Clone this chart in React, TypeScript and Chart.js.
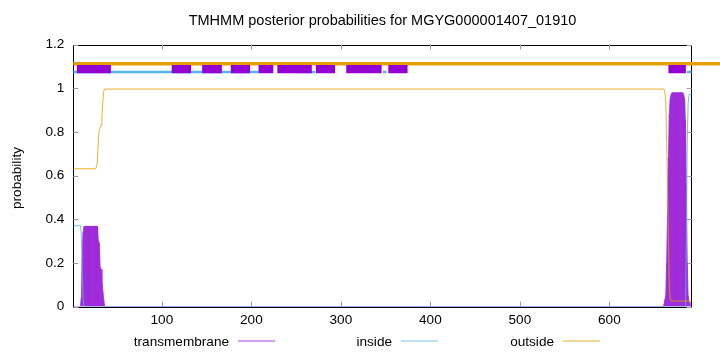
import React, { useEffect, useRef } from "react";
import { Chart, registerables } from "chart.js";

Chart.register(...registerables);

const TITLE = "TMHMM posterior probabilities for MGYG000001407_01910";
const Y_LABEL = "probability";
const LEGEND_LABELS = ["transmembrane", "inside", "outside"];
const X_TICKS = [100, 200, 300, 400, 500, 600];
const Y_TICKS = [0, 0.2, 0.4, 0.6, 0.8, 1, 1.2];
const Y_TICK_LABELS = ["0", "0.2", "0.4", "0.6", "0.8", "1", "1.2"];
const SEQ_START = 1;
const SEQ_END = 692;

// transmembrane posterior, per residue, in the two peaks (zero elsewhere)
const TM_LEFT_POS = [9, 10, 11, 12, 13, 14, 15, 16, 17, 18, 19, 20, 21, 22, 23, 24, 25, 26, 27, 28, 29, 30, 31, 32, 33, 34, 35, 36];
const TM_LEFT = [0, 0.04, 0.22, 0.34, 0.367, 0.367, 0.367, 0.367, 0.367, 0.367, 0.367, 0.367, 0.367, 0.367, 0.367, 0.367, 0.367, 0.367, 0.367, 0.367, 0.3, 0.29, 0.18, 0.17, 0.12, 0.07, 0.03, 0];
const TM_RIGHT_POS = [660, 661, 662, 663, 664, 665, 666, 667, 668, 669, 670, 671, 672, 673, 674, 675, 676, 677, 678, 679, 680, 681, 682, 683, 684, 685, 686, 687, 688, 689, 690, 691, 692];
const TM_RIGHT = [0, 0.01, 0.03, 0.05, 0.2, 0.42, 0.68, 0.88, 0.95, 0.97, 0.979, 0.979, 0.979, 0.979, 0.979, 0.979, 0.979, 0.979, 0.979, 0.979, 0.979, 0.979, 0.979, 0.97, 0.95, 0.85, 0.55, 0.2, 0.05, 0.02, 0.01, 0, 0];

// inside / outside posterior breakpoints
const INSIDE_POS = [1, 9, 10, 11, 12, 13, 685, 686, 687, 688, 689, 692];
const INSIDE = [0.37, 0.37, 0.33, 0.15, 0.03, 0, 0, 0.3, 0.75, 0.93, 0.97, 0.975];
const OUTSIDE_POS = [1, 26, 27, 28, 29, 30, 31, 32, 33, 34, 35, 36, 661, 662, 663, 664, 665, 666, 667, 668, 669, 692];
const OUTSIDE = [0.631, 0.631, 0.64, 0.67, 0.76, 0.81, 0.82, 0.83, 0.87, 0.94, 0.985, 0.996, 0.996, 0.98, 0.94, 0.75, 0.55, 0.3, 0.1, 0.03, 0.025, 0.025];

// topology bar at the top
const TOP_TM_START = [5, 111, 145, 177, 208, 229, 272, 306, 353, 666];
const TOP_TM_END = [43, 132.5, 167, 198.5, 224.5, 267.5, 293.5, 345.5, 374.5, 685.5];
const TOP_IN_START = [1, 251, 347, 686.5];
const TOP_IN_END = [208.5, 271, 351, 692];
const TOP_OUT_START = [1];
const TOP_OUT_END = [730];
const TOP_TM_Y = 1.087;
const TOP_IN_Y = 1.074;
const TOP_OUT_Y = 1.112;

const PURPLE = "#9400d3";
const BLUE = "#56b4e9";
const ORANGE = "#e69f00";
const FONT = "'Liberation Sans', Arial, Helvetica, sans-serif";

function pts(xs: number[], ys: number[]) {
  return xs.map((x, i) => ({ x, y: ys[i] }));
}
function segs(starts: number[], ends: number[], y: number) {
  const out: any[] = [];
  starts.forEach((s, i) => {
    out.push({ x: s, y }, { x: ends[i], y }, { x: ends[i], y: null });
  });
  return out;
}

const decorPlugin = {
  id: "decor",
  beforeDatasetsDraw(chart: any) {
    const { ctx, chartArea: a } = chart;
    ctx.save();
    ctx.strokeStyle = "#000";
    ctx.lineWidth = 1;
    ctx.strokeRect(Math.round(a.left) + 0.5, Math.round(a.top) + 0.5, Math.round(a.right - a.left), Math.round(a.bottom - a.top));
    // inward tick marks
    ctx.strokeStyle = "#a0a0a0";
    const xs = chart.scales.x;
    const ys = chart.scales.y;
    ctx.beginPath();
    X_TICKS.forEach((v) => {
      const px = Math.round(xs.getPixelForValue(v)) + 0.5;
      ctx.moveTo(px, a.bottom);
      ctx.lineTo(px, a.bottom - 5);
      ctx.moveTo(px, a.top);
      ctx.lineTo(px, a.top + 5);
    });
    Y_TICKS.forEach((v) => {
      const py = Math.round(ys.getPixelForValue(v)) + 0.5;
      ctx.moveTo(a.left, py);
      ctx.lineTo(a.left + 5, py);
      ctx.moveTo(a.right, py);
      ctx.lineTo(a.right - 5, py);
    });
    ctx.stroke();
    ctx.restore();
  },
  afterDraw(chart: any) {
    const { ctx, chartArea: a } = chart;
    ctx.save();
    ctx.fillStyle = "#000";
    ctx.font = `14.5px ${FONT}`;
    ctx.textAlign = "center";
    ctx.textBaseline = "alphabetic";
    ctx.fillText(TITLE, (a.left + a.right) / 2, 25);
    ctx.font = `13.6px ${FONT}`;
    ctx.save();
    ctx.translate(21, 178);
    ctx.rotate(-Math.PI / 2);
    ctx.fillText(Y_LABEL, 0, 0);
    ctx.restore();
    // legend
    const textEnds = [229, 392, 554];
    const lineStarts = [238, 401, 563];
    const colors = ["rgba(148,0,211,0.75)", "rgba(86,180,233,0.8)", "rgba(230,159,0,0.8)"];
    ctx.textAlign = "right";
    LEGEND_LABELS.forEach((t, i) => {
      ctx.fillStyle = "#000";
      ctx.fillText(t, textEnds[i], 345.5);
      ctx.strokeStyle = colors[i];
      ctx.lineWidth = 1.2;
      ctx.beginPath();
      ctx.moveTo(lineStarts[i], 341);
      ctx.lineTo(lineStarts[i] + 37, 341);
      ctx.stroke();
    });
    ctx.restore();
  },
};

export default function App() {
  const ref = useRef<HTMLCanvasElement | null>(null);
  useEffect(() => {
    document.body.style.margin = "0";
    const tmLine = [
      { x: SEQ_START, y: 0 },
      ...pts(TM_LEFT_POS, TM_LEFT),
      ...pts(TM_RIGHT_POS, TM_RIGHT),
    ];
    const tmImpulses = [...pts(TM_LEFT_POS, TM_LEFT), ...pts(TM_RIGHT_POS, TM_RIGHT)].filter((p) => p.y > 0);
    const chart = new Chart(ref.current as HTMLCanvasElement, {
      type: "line",
      data: {
        datasets: [
          {
            label: "top-tm",
            data: segs(TOP_TM_START, TOP_TM_END, TOP_TM_Y),
            borderColor: PURPLE,
            borderWidth: 8.3,
            pointRadius: 0,
            spanGaps: false,
            order: 1,
            borderCapStyle: "butt",
          },
          {
            label: "top-in",
            data: segs(TOP_IN_START, TOP_IN_END, TOP_IN_Y),
            borderColor: BLUE,
            borderWidth: 2.5,
            pointRadius: 0,
            spanGaps: false,
            order: 2,
          },
          {
            label: "top-out",
            data: segs(TOP_OUT_START, TOP_OUT_END, TOP_OUT_Y),
            borderColor: ORANGE,
            borderWidth: 3.5,
            pointRadius: 0,
            spanGaps: false,
            clip: false,
            order: 3,
          },
          {
            label: "outside",
            data: pts(OUTSIDE_POS, OUTSIDE),
            borderColor: "rgba(230,159,0,0.8)",
            borderWidth: 1,
            pointRadius: 0,
            order: 4,
          },
          {
            label: "inside",
            data: pts(INSIDE_POS, INSIDE),
            borderColor: "rgba(86,180,233,0.85)",
            borderWidth: 1,
            pointRadius: 0,
            order: 5,
          },
          {
            type: "bar",
            label: "tm-impulses",
            data: tmImpulses,
            backgroundColor: "rgba(140,0,205,0.4)",
            barThickness: 0.6,
            grouped: false,
            order: 6,
          } as any,
          {
            label: "transmembrane",
            data: tmLine,
            borderColor: "rgba(170,70,228,0.9)",
            backgroundColor: "rgba(172,72,228,0.92)",
            borderWidth: 1,
            pointRadius: 0,
            fill: "origin",
            order: 7,
          },
        ],
      } as any,
      options: {
        animation: false,
        responsive: false,
        maintainAspectRatio: false,
        devicePixelRatio: 1,
        layout: { padding: { top: 44.5, right: 28.3, left: 0, bottom: 0 } },
        plugins: { legend: { display: false }, tooltip: { enabled: false }, title: { display: false } },
        scales: {
          x: {
            type: "linear",
            min: SEQ_START,
            max: SEQ_END,
            offset: false,
            afterBuildTicks: (s: any) => {
              s.ticks = X_TICKS.map((v) => ({ value: v }));
            },
            afterFit: (s: any) => {
              s.height = 45.5;
            },
            ticks: { color: "#000", font: { family: FONT, size: 13.6 }, padding: 6, maxRotation: 0, autoSkip: false, callback: (v: any) => String(v) },
            grid: { display: false, drawTicks: false },
            border: { display: false },
          },
          y: {
            type: "linear",
            min: 0,
            max: 1.2,
            afterBuildTicks: (s: any) => {
              s.ticks = Y_TICKS.map((v) => ({ value: v }));
            },
            afterFit: (s: any) => {
              s.width = 73.3;
            },
            ticks: { color: "#000", font: { family: FONT, size: 13.6 }, padding: 9, autoSkip: false, callback: (_v: any, i: number) => Y_TICK_LABELS[i] },
            grid: { display: false, drawTicks: false },
            border: { display: false },
          },
        },
      } as any,
      plugins: [decorPlugin],
    });
    return () => chart.destroy();
  }, []);
  return (
    <div style={{ width: 720, height: 352 }}>
      <canvas ref={ref} width={720} height={352} style={{ display: "block" }} />
    </div>
  );
}
